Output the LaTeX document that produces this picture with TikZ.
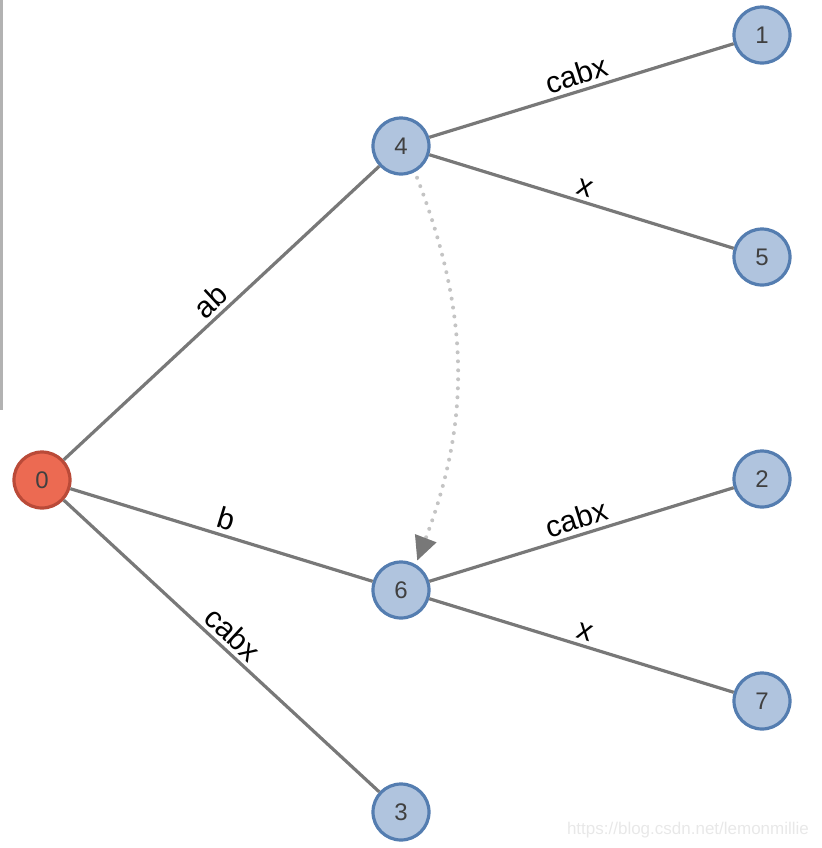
\documentclass[tikz,border=0pt]{standalone}
\usepackage{fontspec}
\setmainfont{Liberation Sans}
\usetikzlibrary{arrows.meta,positioning}
\definecolor{vfill}{RGB}{176,196,222}
\definecolor{vline}{RGB}{84,125,176}
\definecolor{rfill}{RGB}{236,106,82}
\definecolor{rline}{RGB}{186,74,56}
\definecolor{egray}{RGB}{120,120,120}
\definecolor{dgray}{RGB}{196,196,196}
\begin{document}
\begin{tikzpicture}[x=0.5pt, y=-0.5pt, >=Stealth,
  vert/.style={circle, draw=vline, fill=vfill, line width=1.6pt, minimum size=28pt, inner sep=0pt, text=black!75, font=\fontsize{12}{12}\selectfont},
  edge/.style={draw=egray, line width=1.6pt},
  lbl/.style={sloped, above, inner sep=2pt, font=\fontsize{15}{15}\selectfont}]
\useasboundingbox (0,0) rectangle (822,848);
\draw[gray!60, line width=1.2pt] (1.5,0) -- (1.5,410);
\node[vert, fill=rfill, draw=rline] (n0) at (42,480) {0};
\node[vert] (n4) at (401,146) {4}; \node[vert] (n6) at (401,590) {6}; \node[vert] (n3) at (401,812) {3};
\node[vert] (n1) at (762,35) {1}; \node[vert] (n5) at (762,257) {5};
\node[vert] (n2) at (762,479) {2}; \node[vert] (n7) at (762,701) {7};
\foreach \a/\b/\l in {n0/n4/ab, n0/n6/b, n0/n3/cabx, n4/n1/cabx, n4/n5/x, n6/n2/cabx, n6/n7/x}
  \draw[edge] (\a) -- node[lbl] {\l} (\b);
% suffix link
\draw[dgray, line width=2pt, line cap=round, dash pattern=on 0pt off 4.5pt, -{Triangle[color=egray, length=12pt, width=11pt]}, shorten >=2pt, shorten <=3pt] (n4.-62) to[bend left=21] (n6.60);
\node[text=gray!18, font=\fontsize{8.5}{8.5}\selectfont, anchor=east] (wm) at (816,830) {https://blog.csdn.net/lemonmillie};
\end{tikzpicture}
\end{document}
